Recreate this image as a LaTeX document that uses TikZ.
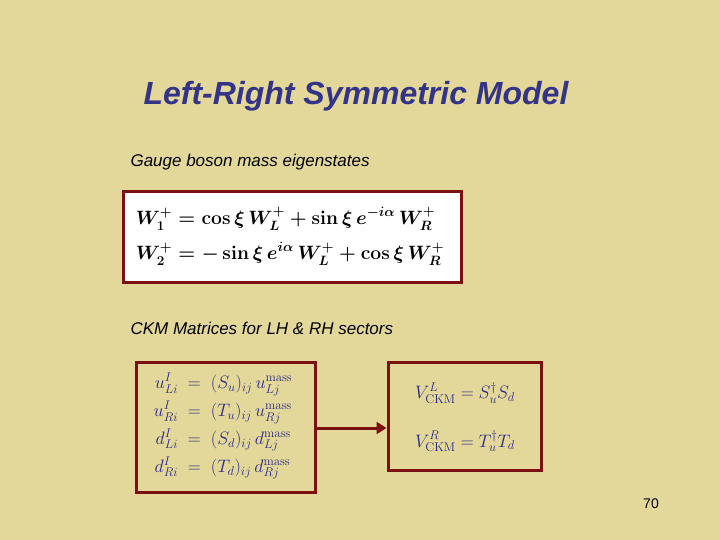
\documentclass[tikz,border=0pt]{standalone}
\usepackage{fix-cm}
\usepackage{amsmath}
\usepackage[no-math]{fontspec}
\setmainfont{Liberation Sans}
\usetikzlibrary{arrows.meta}
\definecolor{bg}{HTML}{E3D899}
\definecolor{frame}{HTML}{7A1010}
\definecolor{ttl}{HTML}{333388}
\definecolor{eqb}{HTML}{2A2A88}
\tikzset{
  boxs/.style={draw=frame,line width=3pt},
  sub/.style={anchor=west,font=\fontsize{17}{20}\selectfont\itshape},
}
\begin{document}
\begin{tikzpicture}[x=1pt,y=-1pt]
\fill[bg] (0,0) rectangle (720,540);
\useasboundingbox (0,0) rectangle (720,540);
\node[text=ttl,font=\fontsize{32}{36}\selectfont\bfseries\itshape] (title) at (356,96) {Left-Right Symmetric Model};
\node[sub] (s1) at (127,162) {Gauge boson mass eigenstates};
\node[sub] (s2) at (127,328) {CKM Matrices for LH \& RH sectors};
\node[boxs,fill=white,minimum width=338pt,minimum height=90pt] (b1) at (292,237) {};
\node[font=\fontsize{19.3}{24}\selectfont\boldmath] at (290,237) {$\begin{aligned}
W_1^+ &= \cos\xi\, W_L^+ + \sin\xi\, e^{-i\alpha}\, W_R^+\\[7pt]
W_2^+ &= -\sin\xi\, e^{i\alpha}\, W_L^+ + \cos\xi\, W_R^+
\end{aligned}$};
\node[boxs,minimum width=179pt,minimum height=130pt] (b2) at (225.5,427) {};
\node[text=eqb,font=\fontsize{18}{21}\selectfont] at (223,426) {$\begin{aligned}
u^I_{Li} &\;=\; (S_u)_{ij}\, u^{\mathrm{mass}}_{Lj}\\[1pt]
u^I_{Ri} &\;=\; (T_u)_{ij}\, u^{\mathrm{mass}}_{Rj}\\[1pt]
d^I_{Li} &\;=\; (S_d)_{ij}\, d^{\mathrm{mass}}_{Lj}\\[1pt]
d^I_{Ri} &\;=\; (T_d)_{ij}\, d^{\mathrm{mass}}_{Rj}
\end{aligned}$};
\node[boxs,minimum width=153pt,minimum height=108pt] (b3) at (464.5,416) {};
\node[text=eqb,font=\fontsize{18}{21}\selectfont] at (465,418) {$\begin{aligned}
V^L_{\mathrm{CKM}} &= S_u^\dagger S_d\\[22pt]
V^R_{\mathrm{CKM}} &= T_u^\dagger T_d
\end{aligned}$};
\draw[frame,line width=3pt,-{Triangle[length=10pt,width=12pt]}] (b2.east |- 0,428) -- (b3.west |- 0,428);
\node[font=\fontsize{14}{16}\selectfont] (pg) at (651,504) {70};
\end{tikzpicture}
\end{document}
